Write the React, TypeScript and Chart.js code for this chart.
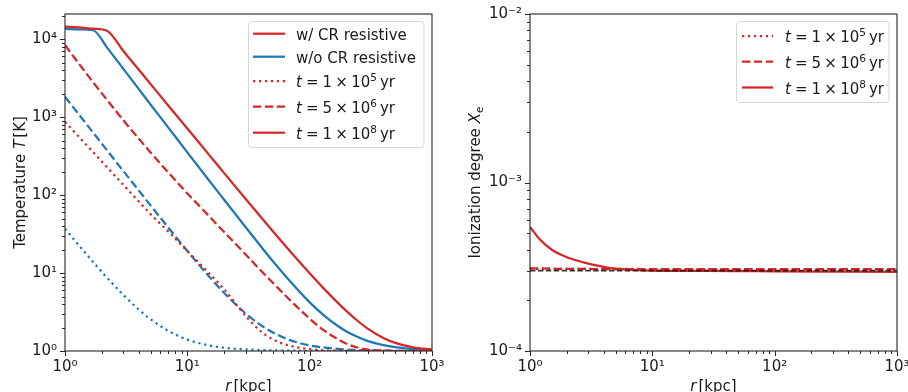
import React, { useEffect, useRef } from "react";
import { Chart, registerables } from "chart.js";

Chart.register(...registerables);

const FONT = "'DejaVu Sans', sans-serif";
const RED = "#d62728";
const BLUE = "#1f77b4";
const INK = "#1a1a1a";

// ---------- data: left panel, temperature T [K] vs r [kpc] ----------
const radiusKpc = [1, 1.3, 1.7, 2.2, 3, 4, 5, 7, 10, 15, 20, 30, 40, 50, 70, 100, 130, 170, 200, 250, 300, 400, 500, 700, 1000];
const tempCR_1e5 = [870, 557, 354, 228, 135, 83, 57, 34, 19.1, 10, 6.2, 2.8, 1.78, 1.41, 1.16, 1.054, 1.02, 1.006, 1.002, 1.0, 1.0, 1.0, 1.0, 1.0, 1.0];
const tempCR_5e6 = [8400, 4830, 2790, 1667, 910, 531, 352, 194, 105, 54, 33.5, 17.3, 10.7, 7.5, 4.4, 2.6, 1.85, 1.415, 1.24, 1.1, 1.04, 1.012, 1.005, 1.0, 1.0];
const tempCR_1e8 = [14500, 14100, 13600, 12800, 7030, 4070, 2660, 1400, 713, 330, 191, 89, 52, 34.3, 18.6, 9.93, 6.36, 4.14, 3.24, 2.39, 1.92, 1.47, 1.27, 1.115, 1.045];
const tempNoCR_1e5 = [37, 22.6, 13.8, 8.74, 5.23, 3.41, 2.56, 1.81, 1.4, 1.18, 1.1, 1.047, 1.027, 1.017, 1.009, 1.004, 1.0, 1.0, 1.0, 1.0, 1.0, 1.0, 1.0, 1.0, 1.0];
const tempNoCR_5e6 = [1820, 1078, 631, 377, 203, 115, 73.8, 38.1, 19.2, 9.1, 5.55, 3.02, 2.14, 1.73, 1.37, 1.18, 1.11, 1.063, 1.045, 1.03, 1.02, 1.011, 1.007, 1.004, 1.002];
const tempNoCR_1e8 = [13500, 13300, 13000, 7850, 4150, 2300, 1452, 732, 353, 155, 87, 38.6, 21.9, 14.2, 7.7, 4.2, 2.89, 2.09, 1.78, 1.5, 1.34, 1.19, 1.12, 1.06, 1.03];

// ---------- data: right panel, ionization degree X_e vs r [kpc] ----------
const radiusIon = [1, 1.2, 1.5, 2, 3, 4, 5, 7, 10, 20, 50, 100, 300, 1000];
const ionCR_1e5 = [3.07e-4, 3.07e-4, 3.07e-4, 3.07e-4, 3.07e-4, 3.07e-4, 3.07e-4, 3.07e-4, 3.06e-4, 3.06e-4, 3.06e-4, 3.06e-4, 3.06e-4, 3.06e-4];
const ionCR_5e6 = [3.1e-4, 3.09e-4, 3.08e-4, 3.07e-4, 3.07e-4, 3.06e-4, 3.06e-4, 3.06e-4, 3.06e-4, 3.06e-4, 3.06e-4, 3.06e-4, 3.06e-4, 3.06e-4];
const ionCR_1e8 = [5.45e-4, 4.6e-4, 4.0e-4, 3.6e-4, 3.3e-4, 3.16e-4, 3.08e-4, 3.03e-4, 3.0e-4, 2.99e-4, 2.98e-4, 2.97e-4, 2.96e-4, 2.95e-4];
const ionReference = [3.0e-4, 3.0e-4, 3.0e-4, 3.0e-4, 3.0e-4, 3.0e-4, 3.0e-4, 3.0e-4, 3.0e-4, 3.0e-4, 3.0e-4, 3.0e-4, 3.0e-4, 3.0e-4];

// axis ranges
const xRange = [1, 1000];
const tempRange = [1, 21000];
const ionRange = [1e-4, 1e-2];

// line styles
const LW = 2.25;
const DOTTED = [2.25, 3.7];
const DASHED = [8.3, 3.6];

// ---------- helpers ----------
type Seg = { t: string; it?: boolean; sz?: number; dy?: number; gap?: number };

const segFont = (s: Seg) => `${s.it ? "italic " : ""}${s.sz ?? 15}px ${FONT}`;

function richWidth(ctx: CanvasRenderingContext2D, segs: Seg[]) {
  let w = 0;
  for (const s of segs) {
    ctx.font = segFont(s);
    w += (s.gap ?? 0) + ctx.measureText(s.t).width;
  }
  return w;
}

function drawRich(ctx: CanvasRenderingContext2D, segs: Seg[], x: number, y: number, align: "left" | "center") {
  let cx = align === "center" ? x - richWidth(ctx, segs) / 2 : x;
  ctx.textAlign = "left";
  ctx.textBaseline = "alphabetic";
  for (const s of segs) {
    ctx.font = segFont(s);
    cx += s.gap ?? 0;
    ctx.fillText(s.t, cx, y + (s.dy ?? 0));
    cx += ctx.measureText(s.t).width;
  }
}

const SUP: Record<string, string> = {
  "0": "\u2070", "1": "\u00b9", "2": "\u00b2", "3": "\u00b3", "4": "\u2074",
  "5": "\u2075", "6": "\u2076", "7": "\u2077", "8": "\u2078", "9": "\u2079", "-": "\u207b",
};

function decadeLabel(value: number | string) {
  const v = Number(value);
  const e = Math.log10(v);
  const r = Math.round(e);
  if (Math.abs(e - r) > 1e-6) return "";
  return "10" + String(r).split("").map((c) => SUP[c] ?? c).join("");
}

function logTicks(min: number, max: number) {
  const out: { v: number; major: boolean }[] = [];
  for (let e = Math.floor(Math.log10(min)) - 1; e <= Math.ceil(Math.log10(max)); e++) {
    for (let k = 1; k <= 9; k++) {
      const v = k * Math.pow(10, e);
      if (v >= min * (1 - 1e-9) && v <= max * (1 + 1e-9)) out.push({ v, major: k === 1 });
    }
  }
  return out;
}

const tLabel = (mant: string, exp: string): Seg[] => [
  { t: "t", it: true },
  { t: "=", gap: 4 },
  { t: mant, gap: 4 },
  { t: "\u00d7", gap: 3.3 },
  { t: "10", gap: 3.3 },
  { t: exp, sz: 10.5, dy: -6 },
  { t: "yr", gap: 3 },
];

type LegendItem = { color: string; dash: number[]; segs: Seg[]; y: number };
type PanelDeco = {
  legendBox: { x: number; y: number; w: number; h: number };
  lineX: [number, number];
  textX: number;
  items: LegendItem[];
  yTitle: Seg[];
  yTitleX: number;
  xTitle: Seg[];
};

function decoPlugin(d: PanelDeco) {
  return {
    id: "deco",
    afterDraw(chart: any) {
      const { ctx, chartArea: a, scales } = chart;
      ctx.save();
      // frame
      ctx.strokeStyle = "#262626";
      ctx.lineWidth = 1.1;
      ctx.setLineDash([]);
      ctx.strokeRect(a.left, a.top, a.right - a.left, a.bottom - a.top);
      // outward ticks
      ctx.lineWidth = 1;
      const xs = scales.x;
      const ys = scales.y;
      for (const t of logTicks(xs.min, xs.max)) {
        const px = Math.round(xs.getPixelForValue(t.v)) + 0.5;
        ctx.beginPath();
        ctx.moveTo(px, a.bottom);
        ctx.lineTo(px, a.bottom + (t.major ? 5 : 3));
        ctx.stroke();
      }
      for (const t of logTicks(ys.min, ys.max)) {
        const py = Math.round(ys.getPixelForValue(t.v)) + 0.5;
        ctx.beginPath();
        ctx.moveTo(a.left, py);
        ctx.lineTo(a.left - (t.major ? 5 : 3), py);
        ctx.stroke();
      }
      // legend box
      const b = d.legendBox;
      const r = 3;
      ctx.beginPath();
      ctx.moveTo(b.x + r, b.y);
      ctx.lineTo(b.x + b.w - r, b.y);
      ctx.arcTo(b.x + b.w, b.y, b.x + b.w, b.y + r, r);
      ctx.lineTo(b.x + b.w, b.y + b.h - r);
      ctx.arcTo(b.x + b.w, b.y + b.h, b.x + b.w - r, b.y + b.h, r);
      ctx.lineTo(b.x + r, b.y + b.h);
      ctx.arcTo(b.x, b.y + b.h, b.x, b.y + b.h - r, r);
      ctx.lineTo(b.x, b.y + r);
      ctx.arcTo(b.x, b.y, b.x + r, b.y, r);
      ctx.closePath();
      ctx.fillStyle = "rgba(255,255,255,0.8)";
      ctx.fill();
      ctx.strokeStyle = "#d6d6d6";
      ctx.lineWidth = 1;
      ctx.stroke();
      for (const it of d.items) {
        ctx.strokeStyle = it.color;
        ctx.lineWidth = LW;
        ctx.setLineDash(it.dash);
        ctx.beginPath();
        ctx.moveTo(d.lineX[0], it.y);
        ctx.lineTo(d.lineX[1], it.y);
        ctx.stroke();
        ctx.setLineDash([]);
        ctx.fillStyle = INK;
        drawRich(ctx, it.segs, d.textX, it.y + 6, "left");
      }
      // axis titles
      ctx.fillStyle = INK;
      drawRich(ctx, d.xTitle, (a.left + a.right) / 2, 391, "center");
      ctx.save();
      ctx.translate(d.yTitleX, (a.top + a.bottom) / 2);
      ctx.rotate(-Math.PI / 2);
      drawRich(ctx, d.yTitle, 0, 0, "center");
      ctx.restore();
      ctx.restore();
    },
  };
}

function pts(xs: number[], ys: number[]) {
  return xs.map((x, i) => ({ x, y: ys[i] }));
}

function line(label: string, xs: number[], ys: number[], color: string, dash: number[], width = LW) {
  return {
    label,
    data: pts(xs, ys),
    borderColor: color,
    backgroundColor: color,
    borderWidth: width,
    borderDash: dash,
    pointRadius: 0,
    fill: false,
    cubicInterpolationMode: "monotone" as const,
  };
}

function scaleOpts(range: number[], axis: "x" | "y", size: number) {
  return {
    type: "logarithmic" as const,
    min: range[0],
    max: range[1],
    grid: { display: false, drawTicks: false },
    border: { display: false },
    ticks: {
      autoSkip: false,
      maxRotation: 0,
      minRotation: 0,
      padding: axis === "x" ? 7 : 8,
      color: INK,
      font: { family: FONT, size: 15 },
      callback: (v: number | string) => decadeLabel(v),
    },
    afterFit: (s: any) => {
      if (axis === "x") s.height = size;
      else s.width = size;
      s.paddingLeft = 0;
      s.paddingRight = 0;
      s.paddingTop = 0;
      s.paddingBottom = 0;
    },
  };
}

function baseOptions(yRange: number[], yWidth: number, padRight: number) {
  return {
    animation: false as const,
    responsive: false,
    devicePixelRatio: 1,
    layout: { padding: { left: 0, right: padRight, top: 14, bottom: 0 } },
    plugins: { legend: { display: false }, tooltip: { enabled: false }, title: { display: false } },
    scales: {
      x: scaleOpts(xRange, "x", 41),
      y: scaleOpts(yRange, "y", yWidth),
    },
  };
}

export default function App() {
  const leftRef = useRef<HTMLCanvasElement>(null);
  const rightRef = useRef<HTMLCanvasElement>(null);

  useEffect(() => {
    const left = new Chart(leftRef.current as HTMLCanvasElement, {
      type: "line",
      data: {
        datasets: [
          line("w/ CR, t=1e5 yr", radiusKpc, tempCR_1e5, RED, DOTTED),
          line("w/ CR, t=5e6 yr", radiusKpc, tempCR_5e6, RED, DASHED),
          line("w/ CR, t=1e8 yr", radiusKpc, tempCR_1e8, RED, []),
          line("w/o CR, t=1e5 yr", radiusKpc, tempNoCR_1e5, BLUE, DOTTED),
          line("w/o CR, t=5e6 yr", radiusKpc, tempNoCR_5e6, BLUE, DASHED),
          line("w/o CR, t=1e8 yr", radiusKpc, tempNoCR_1e8, BLUE, []),
        ],
      },
      options: baseOptions(tempRange, 65, 22) as any,
      plugins: [
        decoPlugin({
          legendBox: { x: 248.5, y: 21.5, w: 175.5, h: 126 },
          lineX: [253, 285],
          textX: 296,
          items: [
            { color: RED, dash: [], segs: [{ t: "w/ CR resistive" }], y: 33.7 },
            { color: BLUE, dash: [], segs: [{ t: "w/o CR resistive" }], y: 56.7 },
            { color: RED, dash: DOTTED, segs: tLabel("1", "5"), y: 81 },
            { color: RED, dash: DASHED, segs: tLabel("5", "6"), y: 106.7 },
            { color: RED, dash: [], segs: tLabel("1", "8"), y: 132.7 },
          ],
          yTitle: [{ t: "Temperature" }, { t: "T", it: true, gap: 5 }, { t: "[K]", gap: 2 }],
          yTitleX: 25,
          xTitle: [{ t: "r", it: true }, { t: "[kpc]", gap: 2 }],
        }),
      ],
    } as any);

    const right = new Chart(rightRef.current as HTMLCanvasElement, {
      type: "line",
      data: {
        datasets: [
          line("reference", radiusIon, ionReference, "rgba(20,20,20,0.85)", [5.5, 2.4], 1.6),
          line("t=1e5 yr", radiusIon, ionCR_1e5, RED, DOTTED),
          line("t=5e6 yr", radiusIon, ionCR_5e6, RED, DASHED),
          line("t=1e8 yr", radiusIon, ionCR_1e8, RED, []),
        ],
      },
      options: baseOptions(ionRange, 76, 11) as any,
      plugins: [
        decoPlugin({
          legendBox: { x: 282.5, y: 21.5, w: 152.5, h: 81 },
          lineX: [288, 319],
          textX: 331,
          items: [
            { color: RED, dash: DOTTED, segs: tLabel("1", "5"), y: 36 },
            { color: RED, dash: DASHED, segs: tLabel("5", "6"), y: 61.7 },
            { color: RED, dash: [], segs: tLabel("1", "8"), y: 87.5 },
          ],
          yTitle: [{ t: "Ionization degree" }, { t: "X", it: true, gap: 5 }, { t: "e", sz: 10.5, dy: 3 }],
          yTitleX: 26,
          xTitle: [{ t: "r", it: true }, { t: "[kpc]", gap: 2 }],
        }),
      ],
    } as any);

    return () => {
      left.destroy();
      right.destroy();
    };
  }, []);

  return (
    <div style={{ position: "fixed", left: 0, top: 0, width: 908, height: 392, background: "#fff", overflow: "hidden" }}>
      <canvas ref={leftRef} width={454} height={392} style={{ position: "absolute", left: 0, top: 0, width: 454, height: 392 }} />
      <canvas ref={rightRef} width={454} height={392} style={{ position: "absolute", left: 454, top: 0, width: 454, height: 392 }} />
    </div>
  );
}
